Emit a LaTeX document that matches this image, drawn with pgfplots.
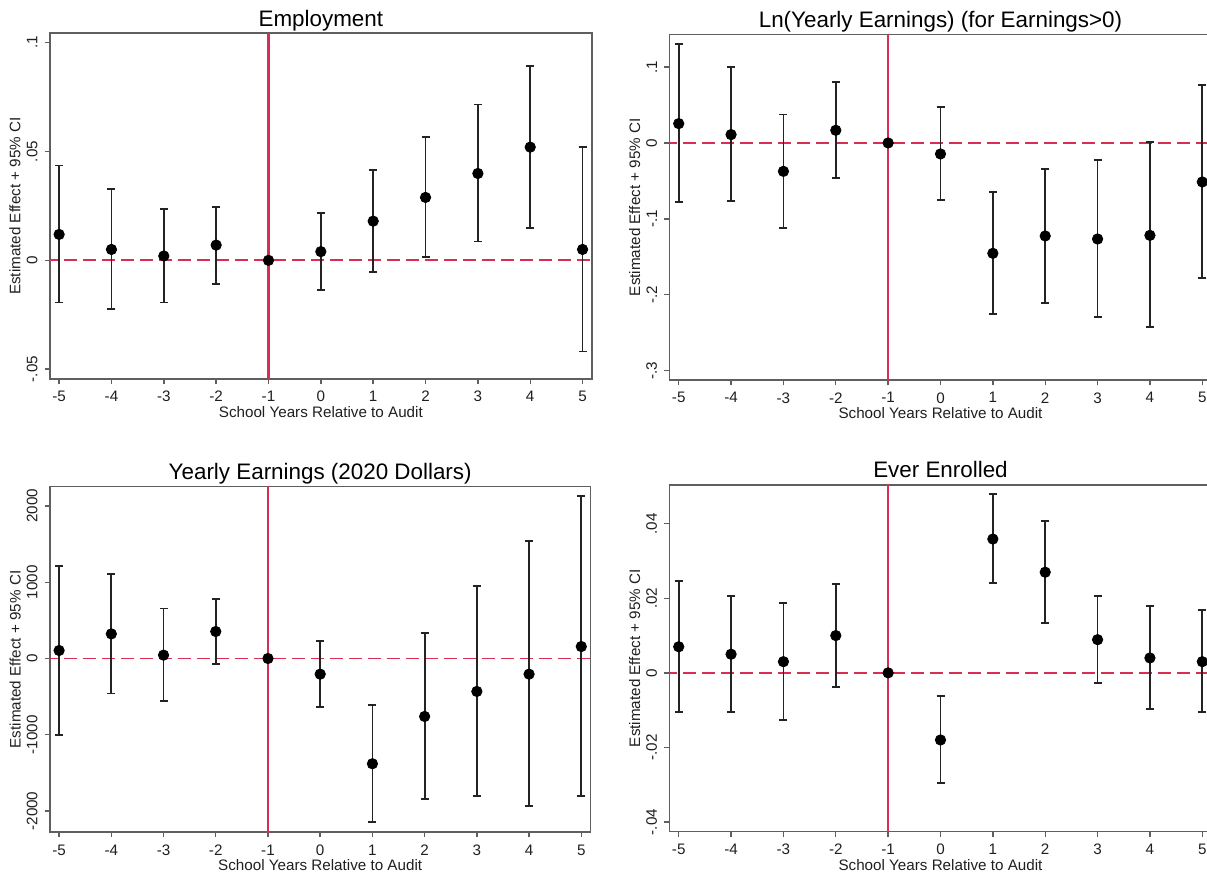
\documentclass[border=0pt]{standalone}
\usepackage{pgfplots}
\usepackage{pgfplotstable}
\pgfplotsset{compat=1.18}
\usepackage{fontspec}
\setmainfont{Liberation Sans}
\definecolor{sred}{RGB}{216,46,84}
\definecolor{framec}{RGB}{95,95,95}
\definecolor{barc}{RGB}{35,35,35}

\pgfplotstableread{
x y lo hi
-5 0.0119 -0.0194 0.0436
-4 0.0050 -0.0225 0.0326
-3 0.0020 -0.0194 0.0237
-2 0.0070 -0.0107 0.0246
0 0.0040 -0.0136 0.0219
1 0.0180 -0.0055 0.0414
2 0.0289 0.0015 0.0566
3 0.0399 0.0087 0.0716
4 0.0520 0.0148 0.0891
5 0.0050 -0.0419 0.0521
}\pA

\pgfplotstableread{
x y lo hi
-5 0.0255 -0.0778 0.1300
-4 0.0110 -0.0769 0.0998
-3 -0.0374 -0.1116 0.0374
-2 0.0167 -0.0457 0.0800
0 -0.0145 -0.0747 0.0470
1 -0.1455 -0.2255 -0.0650
2 -0.1226 -0.2105 -0.0343
3 -0.1266 -0.2299 -0.0224
4 -0.1218 -0.2426 0.0009
5 -0.0514 -0.1780 0.0760
}\pB

\pgfplotstableread{
x y lo hi
-5 105 -1004 1214
-4 323 -459 1105
-3 44 -555 655
-2 354 -70 777
0 -205 -638 231
1 -1380 -2144 -611
2 -760 -1843 336
3 -432 -1799 952
4 -205 -1939 1537
5 157 -1799 2131
}\pC

\pgfplotstableread{
x y lo hi
-5 0.0070 -0.0105 0.0246
-4 0.0050 -0.0106 0.0207
-3 0.0030 -0.0126 0.0187
-2 0.0100 -0.0038 0.0238
0 -0.0180 -0.0296 -0.0062
1 0.0359 0.0242 0.0479
2 0.0270 0.0133 0.0407
3 0.0089 -0.0028 0.0207
4 0.0040 -0.0096 0.0179
5 0.0030 -0.0106 0.0168
}\pD

\pgfplotsset{
  panel/.style={
    scale only axis,
    anchor=north west,
    xmin=-5.18, xmax=5.18,
    xtick={-5,-4,-3,-2,-1,0,1,2,3,4,5},
    xticklabels={-5,-4,-3,-2,-1,0,1,2,3,4,5},
    scaled ticks=false,
    axis line style={framec, line width=0.8pt},
    tick style={framec, line width=0.7pt},
    tick align=outside,
    major tick length=2.6pt,
    tick pos=left,
    ticklabel style={font=\fontsize{7.6}{9}\selectfont, text=black!88},
    yticklabel style={rotate=90, anchor=south},
    xlabel={School Years Relative to Audit},
    ylabel={Estimated Effect + 95\% CI},
    label style={font=\fontsize{7.6}{9}\selectfont, text=black!88},
    xlabel style={at={(axis description cs:0.5,-0.096)}, anchor=center},
    ylabel style={at={(axis description cs:-0.064,0.5)}, anchor=center},
    every axis title shift=0pt,
    title style={at={(0.5,1)}, anchor=base, yshift=3.5pt, font=\fontsize{11.2}{13}\selectfont},
  },
  cis/.style={only marks, mark=*, mark size=2.6pt, black,
    error bars/.cd, y dir=both, y explicit,
    error bar style={barc, line width=0.9pt},
    error mark options={rotate=90, barc, line width=0.9pt, mark size=2pt, solid}},
  vl/.style={sred, line width=1.1pt},
  hl/.style={sred, line width=0.85pt, dash pattern=on 6.5pt off 3pt},
}

\begin{document}
\begin{tikzpicture}
\useasboundingbox (0,0) rectangle (603.5pt,-438.5pt);
\clip (0,0) rectangle (603.5pt,-438.5pt);

% Panel 1
\begin{axis}[panel, at={(24.85pt,-16.65pt)}, width=271.15pt, height=172.85pt,
  title={Employment},
  ymin=-0.0545, ymax=0.1043,
  ytick={-0.05,0,0.05,0.1}, yticklabels={-.05,0,.05,.1}]
  \addplot[vl] coordinates {(-1,-0.5) (-1,0.5)};
  \addplot[hl] coordinates {(-6,0) (6,0)};
  \addplot[cis] table[x=x, y=y, y error plus expr=\thisrow{hi}-\thisrow{y}, y error minus expr=\thisrow{y}-\thisrow{lo}] {\pA};
  \addplot[only marks, mark=*, mark size=2.6pt, black] coordinates {(-1,0)};
\end{axis}

% Panel 2
\begin{axis}[panel, at={(334.65pt,-17.2pt)}, width=271.2pt, height=172.9pt,
  title={Ln(Yearly Earnings) (for Earnings>0)},
  ymin=-0.3127, ymax=0.1431,
  ytick={-0.3,-0.2,-0.1,0,0.1}, yticklabels={-.3,-.2,-.1,0,.1}]
  \addplot[vl] coordinates {(-1,-1) (-1,1)};
  \addplot[hl] coordinates {(-6,0) (6,0)};
  \addplot[cis] table[x=x, y=y, y error plus expr=\thisrow{hi}-\thisrow{y}, y error minus expr=\thisrow{y}-\thisrow{lo}] {\pB};
  \addplot[only marks, mark=*, mark size=2.6pt, black] coordinates {(-1,0)};
\end{axis}

% Panel 3
\begin{axis}[panel, at={(24.85pt,-243.35pt)}, width=270.5pt, height=172.8pt,
  title={Yearly Earnings (2020 Dollars)},
  ymin=-2279, ymax=2253,
  ytick={-2000,-1000,0,1000,2000}, yticklabels={-2000,-1000,0,1000,2000}]
  \addplot[vl] coordinates {(-1,-4000) (-1,4000)};
  \addplot[hl] coordinates {(-6,0) (6,0)};
  \addplot[cis] table[x=x, y=y, y error plus expr=\thisrow{hi}-\thisrow{y}, y error minus expr=\thisrow{y}-\thisrow{lo}] {\pC};
  \addplot[only marks, mark=*, mark size=2.6pt, black] coordinates {(-1,0)};
\end{axis}

% Panel 4
\begin{axis}[panel, at={(334.65pt,-242.5pt)}, width=271.2pt, height=173.35pt,
  title={Ever Enrolled},
  ymin=-0.0426, ymax=0.0504,
  ytick={-0.04,-0.02,0,0.02,0.04}, yticklabels={-.04,-.02,0,.02,.04}]
  \addplot[vl] coordinates {(-1,-0.5) (-1,0.5)};
  \addplot[hl] coordinates {(-6,0) (6,0)};
  \addplot[cis] table[x=x, y=y, y error plus expr=\thisrow{hi}-\thisrow{y}, y error minus expr=\thisrow{y}-\thisrow{lo}] {\pD};
  \addplot[only marks, mark=*, mark size=2.6pt, black] coordinates {(-1,0)};
\end{axis}
\end{tikzpicture}
\end{document}
